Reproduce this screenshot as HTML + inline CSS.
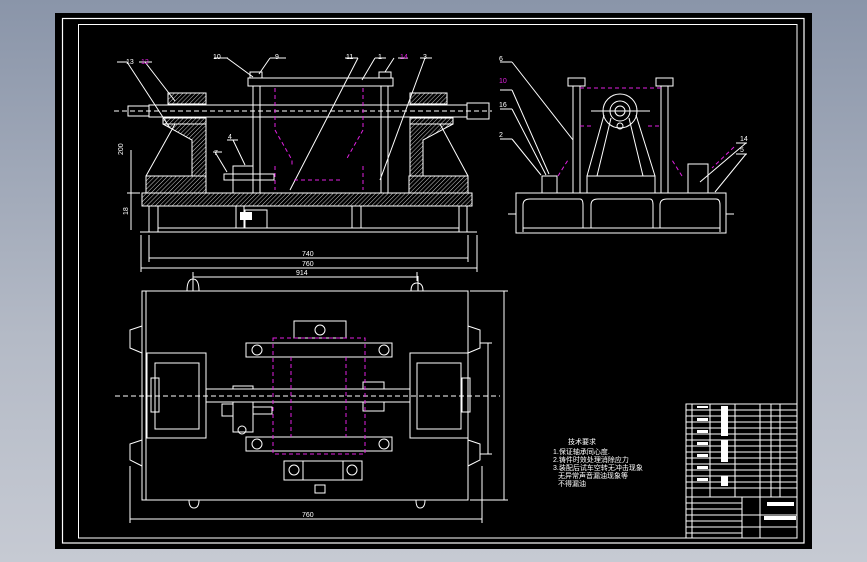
<!DOCTYPE html>
<html><head><meta charset="utf-8"><style>
html,body{margin:0;padding:0;}
body{width:867px;height:562px;overflow:hidden;background:linear-gradient(#8a95a9,#b4bac6 60%,#c6cad3);}
svg{position:absolute;left:0;top:0;}
text{font-family:"Liberation Sans",sans-serif;font-size:7px;fill:#fff;}
</style></head><body>
<svg width="867" height="562" viewBox="0 0 867 562">
<defs>
<pattern id="h" width="3" height="3" patternUnits="userSpaceOnUse" patternTransform="rotate(45)"><line x1="0" y1="0" x2="0" y2="3" stroke="#fff" stroke-width="0.8"/></pattern>
</defs>
<rect x="55" y="13" width="757" height="536" fill="#000"/>
<rect x="62.5" y="18.5" width="741.5" height="524.5" fill="none" stroke="#fff" stroke-width="1.2"/>
<rect x="78.5" y="24.5" width="718.5" height="513.5" fill="none" stroke="#fff" stroke-width="1"/>

<g stroke="#fff" stroke-width="1" fill="none">
<!-- FRONT VIEW -->
<line x1="114" y1="111" x2="492" y2="111" stroke-dasharray="5,3"/>
<rect x="149" y="105" width="318" height="12"/>
<rect x="128" y="106" width="21" height="10"/>
<rect x="248" y="78" width="145" height="8"/>
<rect x="253" y="86" width="7" height="107"/>
<rect x="381" y="86" width="7" height="107"/>
<rect x="250" y="72" width="12" height="6"/><rect x="379" y="72" width="12" height="6"/>
<rect x="168" y="93" width="38" height="11" fill="url(#h)"/>
<rect x="163" y="118" width="43" height="6" fill="url(#h)"/>
<path d="M163 124 L206 124 L206 176 L192 176 L192 140 L163 124Z" fill="url(#h)"/>
<rect x="146" y="176" width="60" height="17" fill="url(#h)"/>
<path d="M146 176 L175 124 M206 176 L206 124"/>
<rect x="410" y="93" width="37" height="11" fill="url(#h)"/>
<rect x="410" y="118" width="43" height="6" fill="url(#h)"/>
<path d="M410 124 L453 124 L423 140 L423 176 L410 176Z" fill="url(#h)"/>
<rect x="409" y="176" width="59" height="17" fill="url(#h)"/>
<path d="M468 176 L440 124"/>
<rect x="142" y="193" width="330" height="13" fill="url(#h)"/>
<path d="M149 206 L149 232 M158 206 L158 232 M236 206 L236 228 M244 206 L244 228 M352 206 L352 228 M361 206 L361 228 M459 206 L459 232 M467 206 L467 232" />
<line x1="140" y1="232" x2="477" y2="232"/>
<line x1="158" y1="228" x2="459" y2="228"/>
<rect x="233" y="166" width="20" height="27"/>
<rect x="224" y="174" width="50" height="6"/>
<rect x="245" y="210" width="22" height="18"/>
<rect x="467" y="103" width="22" height="16"/>
<!-- leader lines -->
<path d="M127 62 L170 128 M145 62 L175 101 M227 58 L253 77 M270 58 L259 74 M358 58 L290 190 M375 58 L362 80 M394 58 L385 72 M425 58 L380 180 M215 152 L227 172 M233 140 L245 165"/>
<path d="M117 62 L127 62 M139 62 L152 62 M214 58 L228 58 M270 58 L286 58 M345 58 L358 58 M375 58 L386 58 M398 58 L408 58 M420 58 L432 58 M213 152 L222 152 M227 140 L238 140"/>
<!-- dims front -->
<path d="M131 150 L131 230 M131 193 L131 193 M149 235 L149 262 M468 235 L468 262 M141 235 L141 272 M477 235 L477 272 M149 258 L468 258 M141 268 L477 268 M193 272 L193 281 M417 272 L417 281 M193 277 L417 277 M127 193 L140 193"/>

<!-- SIDE VIEW -->
<rect x="516" y="193" width="210" height="40"/>
<path d="M523 232 L523 205 Q523 199 530 199 L580 199 Q583 199 583 205 L583 228 M591 228 L591 205 Q591 199 598 199 L650 199 Q653 199 653 205 L653 228 M660 228 L660 205 Q660 199 667 199 L716 199 Q720 199 720 205 L720 232 M523 228 L720 228"/>
<path d="M508 214 L516 214 M726 214 L734 214"/>
<rect x="573" y="86" width="7" height="107"/><rect x="661" y="86" width="7" height="107"/>
<rect x="568" y="78" width="17" height="8"/><rect x="656" y="78" width="17" height="8"/>
<circle cx="620" cy="111" r="17"/><circle cx="620" cy="111" r="10"/><circle cx="620" cy="111" r="5"/>
<circle cx="620" cy="126" r="3"/>
<path d="M604 115 L587 176 M611 118 L597 176 M636 115 L655 176 M629 118 L643 176 M591 111 L650 111" />
<rect x="587" y="176" width="68" height="17"/>
<rect x="542" y="176" width="15" height="17"/>
<rect x="688" y="164" width="20" height="29"/>
<path d="M512 62 L573 140 M512 90 L549 174 M512 109 L546 175 M512 139 L541 175 M500 62 L512 62 M500 90 L512 90 M500 109 L512 109 M500 139 L512 139 M746 143 L700 182 M746 154 L715 192 M736 143 L747 143 M736 154 L747 154"/>

<!-- PLAN VIEW -->
<rect x="142" y="291" width="326" height="209"/>
<line x1="146" y1="291" x2="146" y2="500"/>
<rect x="147" y="353" width="59" height="85"/>
<rect x="155" y="363" width="44" height="66"/>
<rect x="410" y="353" width="58" height="85"/>
<rect x="417" y="363" width="44" height="66"/>
<rect x="151" y="378" width="8" height="34"/><rect x="462" y="378" width="8" height="34"/>
<rect x="206" y="389" width="204" height="13"/>
<line x1="115" y1="396" x2="500" y2="396" stroke-dasharray="5,3"/>
<rect x="246" y="343" width="146" height="14"/>
<rect x="246" y="437" width="146" height="14"/>
<rect x="294" y="321" width="52" height="17"/>
<rect x="284" y="461" width="78" height="19"/>
<path d="M303 461 L303 480 M343 461 L343 480"/>
<rect x="233" y="402" width="20" height="30"/>
<rect x="222" y="404" width="11" height="12"/>
<rect x="253" y="407" width="19" height="7"/>
<rect x="363" y="382" width="21" height="7"/>
<rect x="363" y="402" width="21" height="9"/>
<rect x="233" y="386" width="20" height="3"/>
<rect x="315" y="485" width="10" height="8"/>
<circle cx="320" cy="330" r="5"/><circle cx="294" cy="470" r="5"/><circle cx="352" cy="470" r="5"/>
<circle cx="257" cy="350" r="5"/><circle cx="384" cy="350" r="5"/><circle cx="257" cy="444" r="5"/><circle cx="384" cy="444" r="5"/>
<circle cx="242" cy="430" r="4"/>
<path d="M187 291 Q187 279 193 279 Q199 279 199 291 M411 291 Q411 283 417 283 Q423 283 423 291 M189 500 Q189 508 194 508 Q199 508 199 500 M416 500 Q416 508 420 508 Q425 508 425 500"/>
<path d="M142 326 L130 330 L130 348 L142 353 M142 440 L130 444 L130 460 L142 466 M468 326 L480 330 L480 348 L468 353 M468 440 L480 444 L480 460 L468 466"/>
<path d="M193 272 L193 291 M418 276 L418 291 M130 466 L130 523 M482 466 L482 523 M130 519 L482 519 M480 343 L492 343 M480 454 L492 454 M488 343 L488 454 M470 291 L508 291 M470 500 L508 500 M504 291 L504 500"/>

<!-- TABLE -->
<rect x="686" y="404" width="111" height="134"/>
<path d="M692 404 L692 538 M710 404 L710 497 M735 404 L735 497 M742 497 L742 538 M760 404 L760 538 M771 404 L771 497 M780 404 L780 497"/>
<path d="M686 410 H797 M686 416 H797 M686 422 H797 M686 428 H797 M686 434 H797 M686 440 H797 M686 446 H797 M686 452 H797 M686 458 H797 M686 464 H797 M686 470 H797 M686 476 H797 M686 482 H797 M686 488 H797 M686 497 H797 M686 503 H742 M686 509 H742 M686 515 H797 M686 521 H742 M686 527 H797 M686 533 H742"/>
</g>
<!-- white filled label bits -->
<g fill="#fff">
<rect x="697" y="406" width="11" height="2"/><rect x="697" y="418" width="11" height="3"/><rect x="697" y="430" width="11" height="3"/><rect x="697" y="442" width="11" height="3"/><rect x="697" y="454" width="11" height="3"/><rect x="697" y="466" width="11" height="3"/><rect x="697" y="478" width="11" height="3"/>
<rect x="721" y="406" width="7" height="30"/><rect x="721" y="440" width="7" height="22"/><rect x="721" y="476" width="7" height="10"/>
<rect x="767" y="502" width="27" height="4"/><rect x="764" y="516" width="32" height="4"/>
<rect x="240" y="212" width="12" height="8"/>
</g>
<!-- magenta dashed -->
<g stroke="#e020e0" stroke-width="1" fill="none" stroke-dasharray="4,3">
<path d="M275 88 L275 130 L292 160 L292 165 M363 88 L363 130 L346 160 M275 166 L275 190 M363 166 L363 190 M294 180 L343 180"/>
<path d="M580 88 L661 88 M580 126 L592 126 M648 126 L661 126 M558 176 L568 160 M682 176 L672 160"/>
<rect x="273" y="338" width="92" height="116"/>
<path d="M291 357 L291 437 M346 357 L346 437"/>
<path d="M734 147 L712 168"/>
</g>
<!-- text -->
<text x="126" y="64" font-size="6">13</text><text x="141" y="64" font-size="6" fill="#e020e0" style="fill:#e020e0">12</text>
<text x="213" y="59" font-size="6">10</text><text x="275" y="59" font-size="6">9</text>
<text x="346" y="59" font-size="6">11</text><text x="378" y="59" font-size="6">1</text>
<text x="400" y="59" font-size="6" style="fill:#e020e0">14</text><text x="423" y="59" font-size="6">3</text>
<text x="214" y="155" font-size="6">7</text><text x="228" y="139" font-size="6">4</text>
<text x="123" y="155" font-size="6" transform="rotate(-90 123 155)">200</text>
<text x="128" y="215" font-size="6" transform="rotate(-90 128 215)">18</text>
<text x="302" y="256" font-size="6">740</text><text x="302" y="266" font-size="6">760</text><text x="296" y="275" font-size="6">914</text>
<text x="302" y="517" font-size="6">760</text>
<text x="499" y="61" font-size="6">6</text><text x="499" y="83" font-size="6" style="fill:#e020e0">10</text>
<text x="499" y="107" font-size="6">16</text><text x="499" y="137" font-size="6">2</text>
<text x="740" y="141" font-size="6">14</text><text x="740" y="152" font-size="6">5</text>
<text x="568" y="444" font-size="6">技术要求</text>
<text x="553" y="454" font-size="6">1.保证轴承同心度.</text>
<text x="553" y="462" font-size="6">2.铸件时效处理消除应力</text>
<text x="553" y="470" font-size="6">3.装配后试车空转无冲击现象</text>
<text x="558" y="478" font-size="6">无异常声音漏油现象等</text>
<text x="558" y="486" font-size="6">不得漏油</text>
</svg>
</body></html>
